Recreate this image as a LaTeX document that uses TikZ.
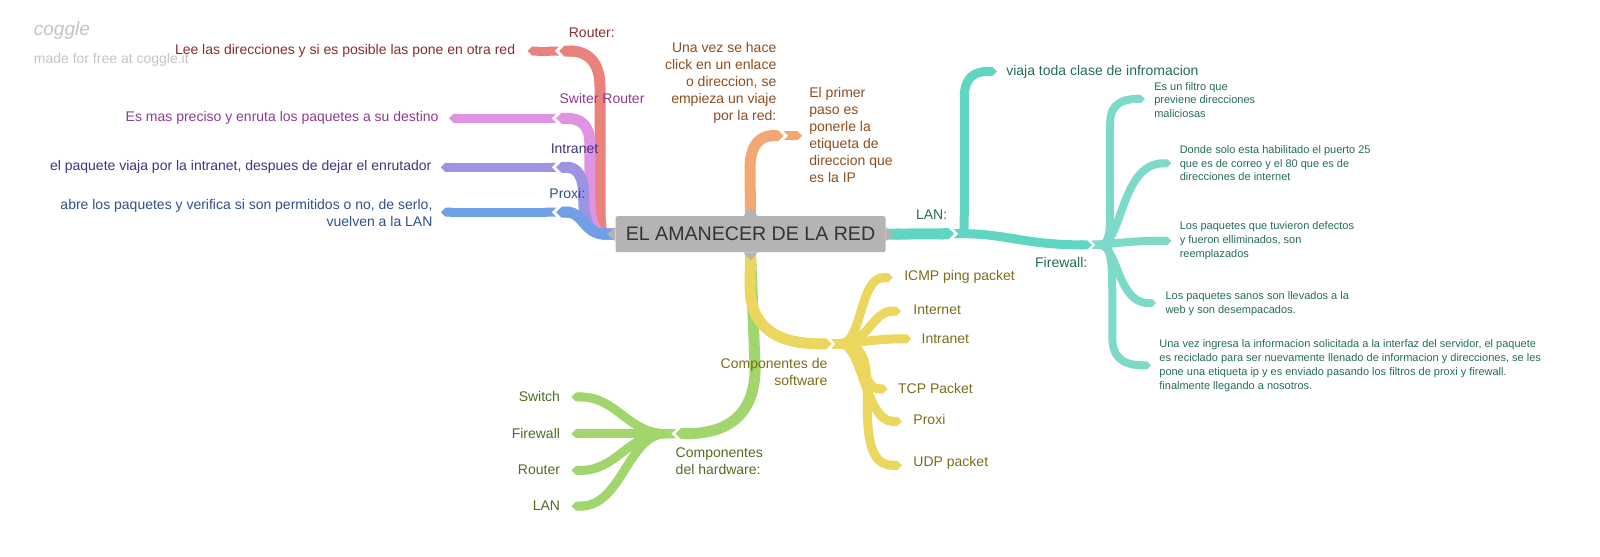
\documentclass[tikz,border=0pt]{standalone}
\usepackage{fontspec}
\setmainfont{Liberation Sans}
\usetikzlibrary{arrows.meta}

\definecolor{boxgray}{HTML}{B4B4B4}
\definecolor{titlegray}{HTML}{333333}
\definecolor{markgray}{HTML}{C4C4C4}
\definecolor{rtred}{HTML}{E8827B}
\definecolor{rttext}{HTML}{8B2C2C}
\definecolor{swpink}{HTML}{DE93E3}
\definecolor{swtext}{HTML}{8E3A93}
\definecolor{inviolet}{HTML}{9C93E3}
\definecolor{intext}{HTML}{3A3683}
\definecolor{pxblue}{HTML}{6FA0E6}
\definecolor{pxtext}{HTML}{2E4F8A}
\definecolor{iporange}{HTML}{F2A872}
\definecolor{iptext}{HTML}{8E4D1B}
\definecolor{lanteal}{HTML}{5ED6C1}
\definecolor{fwteal}{HTML}{7DD9C8}
\definecolor{lantext}{HTML}{246B5D}
\definecolor{swyellow}{HTML}{EBD65E}
\definecolor{softtext}{HTML}{7B6C1A}
\definecolor{hwgreen}{HTML}{A0D66C}
\definecolor{hwtext}{HTML}{4E6D1F}

\begin{document}
\begin{tikzpicture}[x=1.0204pt, y=-1.0204pt]
\tikzstyle{every node}=[inner sep=0pt];
\tikzstyle{branch}=[line width=11pt, {Triangle Cap[reversed]}-{Triangle Cap}];
\tikzstyle{leaf}=[line width=9pt, {Triangle Cap[reversed]}-{Triangle Cap}];
\tikzstyle{twig}=[line width=8pt, {Triangle Cap[reversed]}-{Triangle Cap}];
\tikzstyle{txt}=[font=\fontsize{14}{17}\selectfont];
\tikzstyle{small}=[font=\fontsize{11}{13.8}\selectfont, align=left, anchor=west, text=lantext];
\useasboundingbox (0,0) rectangle (1568,545);

% watermark
\node[anchor=west, text=markgray, font=\fontsize{19}{22}\itshape] (logo) at (33,30) {coggle};
\node[anchor=west, text=markgray, txt] (made) at (33,59) {made for free at coggle.it};

% root
\node[fill=boxgray, rounded corners=2pt, minimum width=270pt, minimum height=36pt,
  text=titlegray, font=\fontsize{19.6}{22}\selectfont] (title) at (735.5,229.5) {EL AMANECER DE LA RED};

% joints
\coordinate (rt) at (548,50);
\coordinate (sw) at (545,116);
\coordinate (in) at (545,164);
\coordinate (px) at (545,208);
\coordinate (ip) at (768,133);
\coordinate (lan) at (935,229);
\coordinate (fw) at (1070,240);
\coordinate (soft) at (815,337);
\coordinate (hard) at (662,425);

% left side
\draw[leaf, rtred] (rt) -- (517,50) coordinate (rtend);
\draw[leaf, swpink] (sw) -- (440,116) coordinate (swend);
\draw[leaf, inviolet] (in) -- (432,164) coordinate (inend);
\draw[leaf, pxblue] (px) -- (432,208) coordinate (pxend);
\draw[branch, rtred] (title.west) .. controls (588,229) and (588,215) .. (588,195) -- (588,85) .. controls (588,60) and (575,50) .. (rt);
\draw[branch, swpink] (title.west) .. controls (579,229) and (578,210) .. (578,185) -- (578,140) .. controls (578,122) and (568,116) .. (sw);
\draw[branch, inviolet] (title.west) .. controls (574,229) and (572,210) .. (572,192) .. controls (572,172) and (565,164) .. (in);
\draw[branch, pxblue] (title.west) .. controls (572,229) and (572,208) .. (px);
\node[txt, text=rttext] (router) at (580,32) {Router:};
\node[txt, text=swtext] (switer) at (590,97) {Switer Router};
\node[txt, text=intext] (intranet) at (563,146) {Intranet};
\node[txt, text=pxtext] (proxi) at (556,190) {Proxi:};
\node[txt, text=rttext, anchor=east] (rttxt) at (505,50) {Lee las direcciones y si es posible las pone en otra red};
\node[txt, text=swtext, anchor=east] (swtxt) at (430,116) {Es mas preciso y enruta los paquetes a su destino};
\node[txt, text=intext, anchor=east] (intxt) at (423,164) {el paquete viaja por la intranet, despues de dejar el enrutador};
\node[txt, text=pxtext, anchor=east, align=right] (pxtxt) at (424,209) {abre los paquetes y verifica si son permitidos o no, de serlo,\\vuelven a la LAN};

% top
\draw[leaf, iporange] (ip) -- (786,133) coordinate (ipend);
\draw[branch, iporange] (title.north) -- (735,165) .. controls (735,142) and (745,133) .. (ip);
\node[txt, text=iptext, anchor=east, align=right] (click) at (761,81) {Una vez se hace\\click en un enlace\\o direccion, se\\empieza un viaje\\por la red:};
\node[txt, text=iptext, anchor=west, align=left] (paso) at (793,132) {El primer\\paso es\\ponerle la\\etiqueta de\\direccion que\\es la IP};

% right side
\draw[twig, fwteal] (fw) .. controls (1088,240) and (1088,225) .. (1088,200) -- (1088,120) .. controls (1088,102) and (1100,97) .. (1122,97) coordinate (fwa);
\draw[twig, fwteal] (fw) .. controls (1100,240) and (1098,160) .. (1148,160) coordinate (fwb);
\draw[twig, fwteal] (fw) .. controls (1100,238) and (1110,236) .. (1148,236) coordinate (fwc);
\draw[twig, fwteal] (fw) .. controls (1095,240) and (1095,297) .. (1133,297) coordinate (fwd);
\draw[twig, fwteal] (fw) .. controls (1090,240) and (1090,260) .. (1090,290) -- (1090,330) .. controls (1090,350) and (1100,358) .. (1128,358) coordinate (fwe);
\draw[leaf, lanteal] (lan) .. controls (945,229) and (945,215) .. (945,190) -- (945,95) .. controls (945,76) and (955,70) .. (977,70) coordinate (viaja);
\draw[leaf, lanteal] (lan) .. controls (985,229) and (1005,240) .. (fw);
\draw[branch, lanteal] (title.east) -- (lan);
\node[txt, text=lantext] (lanlbl) at (913,210) {LAN:};
\node[txt, text=lantext] (fwlbl) at (1040,257) {Firewall:};
\node[txt, text=lantext, anchor=west] (viajatxt) at (986,70) {viaja toda clase de infromacion};
\node[small] (fwatxt) at (1131,98) {Es un filtro que\\previene direcciones\\maliciosas};
\node[small] (fwbtxt) at (1156,160) {Donde solo esta habilitado el puerto 25\\que es de correo y el 80 que es de\\direcciones de internet};
\node[small] (fwctxt) at (1156,236) {Los paquetes que tuvieron defectos\\y fueron elliminados, son\\reemplazados};
\node[small] (fwdtxt) at (1142,297.5) {Los paquetes sanos son llevados a la\\web y son desempacados.};
\node[small] (fwetxt) at (1136,358.5) {Una vez ingresa la informacion solicitada a la interfaz del servidor, el paquete\\es reciclado para ser nuevamente llenado de informacion y direcciones, se les\\pone una etiqueta ip y es enviado pasando los filtros de proxi y firewall.\\finalmente llegando a nosotros.};

% bottom: hardware
\draw[leaf, hwgreen] (hard) .. controls (615,425) and (605,389) .. (560,389) coordinate (hwa);
\draw[leaf, hwgreen] (hard) -- (560,425) coordinate (hwb);
\draw[leaf, hwgreen] (hard) .. controls (615,425) and (605,461) .. (560,461) coordinate (hwc);
\draw[leaf, hwgreen] (hard) .. controls (615,425) and (610,496) .. (560,496) coordinate (hwd);
\draw[branch, hwgreen] (title.south) -- (740,360) .. controls (740,405) and (715,425) .. (hard);
\node[txt, text=hwtext, anchor=east] (switch) at (549,389) {Switch};
\node[txt, text=hwtext, anchor=east] (firewall) at (549,425) {Firewall};
\node[txt, text=hwtext, anchor=east] (routerhw) at (549,460) {Router};
\node[txt, text=hwtext, anchor=east] (lanhw) at (549,496) {LAN};
\node[txt, text=hwtext, anchor=west, align=left] (hardlbl) at (662,452) {Componentes\\del hardware:};

% bottom: software
\draw[leaf, swyellow] (soft) .. controls (845,337) and (842,272) .. (875,272) coordinate (sfa);
\draw[leaf, swyellow] (soft) .. controls (850,337) and (855,305) .. (883,305) coordinate (sfb);
\draw[leaf, swyellow] (soft) .. controls (850,335) and (860,332) .. (893,332) coordinate (sfc);
\draw[leaf, swyellow] (soft) .. controls (845,337) and (845,381) .. (870,381) coordinate (sfd);
\draw[leaf, swyellow] (soft) .. controls (845,337) and (848,413) .. (884,413) coordinate (sfe);
\draw[leaf, swyellow] (soft) .. controls (850,337) and (850,360) .. (850,400) .. controls (850,445) and (860,456) .. (884,456) coordinate (sff);
\draw[branch, swyellow] (title.south) -- (735,280) .. controls (735,320) and (760,337) .. (soft);
\node[txt, text=softtext, anchor=west] (icmp) at (886,271) {ICMP ping packet};
\node[txt, text=softtext, anchor=west] (internet) at (895,304) {Internet};
\node[txt, text=softtext, anchor=west] (intranetsw) at (903,332) {Intranet};
\node[txt, text=softtext, anchor=west] (tcp) at (880,381) {TCP Packet};
\node[txt, text=softtext, anchor=west] (proxisw) at (895,411) {Proxi};
\node[txt, text=softtext, anchor=west] (udp) at (895,454) {UDP packet};
\node[txt, text=softtext, anchor=east, align=right] (softlbl) at (811,365) {Componentes de\\software};

% points of the root box
\fill[boxgray] ([xshift=-7pt]title.north) -- ([yshift=8pt]title.north) -- ([xshift=7pt]title.north) -- cycle;
\fill[boxgray] ([xshift=-7pt]title.south) -- ([yshift=-8pt]title.south) -- ([xshift=7pt]title.south) -- cycle;
\fill[boxgray] ([yshift=-7pt]title.west) -- ([xshift=-8pt]title.west) -- ([yshift=7pt]title.west) -- cycle;
\fill[boxgray] ([yshift=-7pt]title.east) -- ([xshift=8pt]title.east) -- ([yshift=7pt]title.east) -- cycle;
\end{tikzpicture}
\end{document}
